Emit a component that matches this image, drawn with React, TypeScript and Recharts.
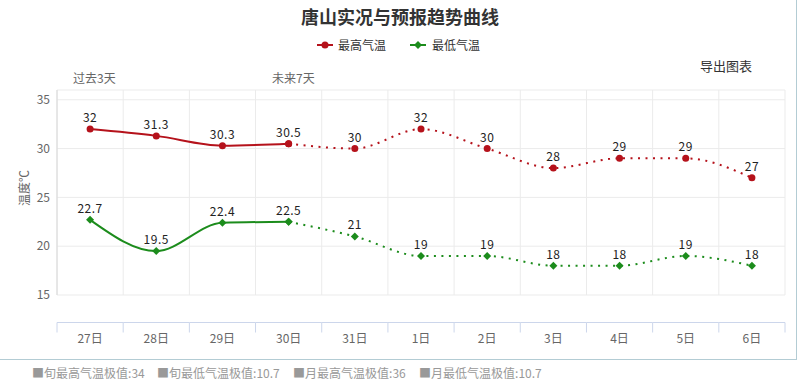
import { LineChart, Line, XAxis, YAxis, CartesianGrid, LabelList } from "recharts";

const DAYS = ["27日", "28日", "29日", "30日", "31日", "1日", "2日", "3日", "4日", "5日", "6日"];
const HIGH = [32, 31.3, 30.3, 30.5, 30, 32, 30, 28, 29, 29, 27];
const LOW = [22.7, 19.5, 22.4, 22.5, 21, 19, 19, 18, 18, 19, 18];
const LAST_PAST = 3; // 30日 is where the solid part ends
const Y_TICKS = [15, 20, 25, 30, 35];
const EXTREMES = [
  { label: "旬最高气温极值", value: "34" },
  { label: "旬最低气温极值", value: "10.7" },
  { label: "月最高气温极值", value: "36" },
  { label: "月最低气温极值", value: "10.7" },
];

const RED = "#b5121b";
const GREEN = "#1c8c1c";
const FONT = '"Noto Sans CJK SC", "DejaVu Sans", sans-serif';

const rows = DAYS.map((day, i) => ({
  day,
  high: HIGH[i],
  low: LOW[i],
  highPast: i <= LAST_PAST ? HIGH[i] : null,
  highFut: i >= LAST_PAST ? HIGH[i] : null,
  lowPast: i <= LAST_PAST ? LOW[i] : null,
  lowFut: i >= LAST_PAST ? LOW[i] : null,
}));

function Diamond(props: any) {
  const { cx, cy } = props;
  if (cx == null || cy == null) return null;
  const s = 4;
  return (
    <polygon
      points={`${cx},${cy - s} ${cx + s},${cy} ${cx},${cy + s} ${cx - s},${cy}`}
      fill={GREEN}
    />
  );
}

function DayTick(props: any) {
  const { x, y, payload, index, visibleTicksCount, width } = props;
  const n = visibleTicksCount || DAYS.length;
  const band = width ? width / n : 66.2;
  const axisY = y + 27.5;
  const left = x - band / 2;
  const right = x + band / 2;
  return (
    <g>
      <line x1={left} x2={right} y1={axisY} y2={axisY} stroke="#ccd6eb" />
      <line x1={left} x2={left} y1={axisY} y2={axisY + 10} stroke="#ccd6eb" />
      {index === n - 1 && (
        <line x1={right} x2={right} y1={axisY} y2={axisY + 10} stroke="#ccd6eb" />
      )}
      <text x={x} y={y + 48} textAnchor="middle" fontSize={12} fill="#666" fontFamily={FONT}>
        {payload.value}
      </text>
    </g>
  );
}

const labelStyle = { fontSize: 12, fill: "#222", fontFamily: FONT, letterSpacing: 0.5 };

export default function App() {
  return (
    <div
      style={{
        position: "absolute",
        left: 0,
        top: 0,
        width: 800,
        height: 390,
        background: "#fff",
        fontFamily: FONT,
        overflow: "hidden",
      }}
    >
      <div
        style={{
          position: "absolute",
          left: -2,
          top: -2,
          width: 797,
          height: 360,
          border: "1px solid #b3ccd4",
        }}
      />
      <div
        style={{
          position: "absolute",
          top: 3,
          left: 0,
          width: 800,
          textAlign: "center",
          fontSize: 18,
          fontWeight: "bold",
          color: "#333",
        }}
      >
        唐山实况与预报趋势曲线
      </div>

      <div style={{ position: "absolute", top: 36, left: 317, display: "flex", alignItems: "center", fontSize: 12, color: "#333" }}>
        <svg width={16} height={10} style={{ marginRight: 5 }}>
          <line x1={0} x2={16} y1={5} y2={5} stroke={RED} strokeWidth={2} />
          <circle cx={8} cy={5} r={3.5} fill={RED} />
        </svg>
        <span>最高气温</span>
        <svg width={16} height={10} style={{ marginLeft: 24, marginRight: 6 }}>
          <line x1={0} x2={16} y1={5} y2={5} stroke={GREEN} strokeWidth={2} />
          <polygon points="8,1 12,5 8,9 4,5" fill={GREEN} />
        </svg>
        <span>最低气温</span>
      </div>

      <div style={{ position: "absolute", top: 56, left: 700, fontSize: 13, color: "#333" }}>导出图表</div>
      <div style={{ position: "absolute", top: 69, left: 73, fontSize: 12, color: "#666" }}>过去3天</div>
      <div style={{ position: "absolute", top: 69, left: 272, fontSize: 12, color: "#666" }}>未来7天</div>

      <div
        style={{
          position: "absolute",
          left: 23,
          top: 188,
          transform: "translate(-50%, -50%) rotate(-90deg)",
          transformOrigin: "center",
          fontSize: 12,
          color: "#666",
          whiteSpace: "nowrap",
        }}
      >
        温度℃
      </div>

      <div style={{ position: "absolute", left: 0, top: 0 }}>
        <LineChart
          width={800}
          height={390}
          data={rows}
          margin={{ top: 90, right: 15, bottom: 35, left: 27 }}
        >
          <CartesianGrid
            stroke="#ebebeb"
            verticalCoordinatesGenerator={({ offset }: any) =>
              DAYS.map((_, i) => offset.left + (offset.width * i) / DAYS.length).concat(
                offset.left + offset.width
              )
            }
          />
          <XAxis
            dataKey="day"
            scale="band"
            axisLine={false}
            tickLine={false}
            tickSize={0}
            tickMargin={0}
            height={60}
            interval={0}
            tick={<DayTick />}
          />
          <YAxis
            domain={[15, 36]}
            ticks={Y_TICKS}
            width={30}
            axisLine={{ stroke: "#d8d8d8" }}
            tickLine={false}
            tickSize={0}
            tickMargin={7}
            allowDataOverflow
            tick={{ fontSize: 12, fill: "#666", fontFamily: FONT }}
          />

          <Line type="monotone" dataKey="highPast" stroke={RED} strokeWidth={2} dot={{ r: 3.5, fill: RED, stroke: RED, strokeWidth: 0 }} isAnimationActive={false} connectNulls={false} />
          <Line type="monotone" dataKey="highFut" stroke={RED} strokeWidth={2} strokeDasharray="2 5.5" dot={{ r: 3.5, fill: RED, stroke: RED, strokeWidth: 0 }} isAnimationActive={false} connectNulls={false} />
          <Line type="monotone" dataKey="lowPast" stroke={GREEN} strokeWidth={2} dot={<Diamond />} isAnimationActive={false} connectNulls={false} />
          <Line type="monotone" dataKey="lowFut" stroke={GREEN} strokeWidth={2} strokeDasharray="2 5.5" dot={<Diamond />} isAnimationActive={false} connectNulls={false} />

          <Line dataKey="high" stroke="none" dot={false} activeDot={false} isAnimationActive={false}>
            <LabelList dataKey="high" position="top" offset={7} style={labelStyle} />
          </Line>
          <Line dataKey="low" stroke="none" dot={false} activeDot={false} isAnimationActive={false}>
            <LabelList dataKey="low" position="top" offset={7} style={labelStyle} />
          </Line>
        </LineChart>
      </div>

      <div style={{ position: "absolute", top: 364, left: 0, width: 800, height: 20, fontSize: 12, color: "#999" }}>
        {EXTREMES.map((e, i) => (
          <span key={e.label} style={{ position: "absolute", left: [32, 157, 293, 419][i], whiteSpace: "nowrap" }}>
            ■{e.label}:{e.value}
          </span>
        ))}
      </div>
    </div>
  );
}
